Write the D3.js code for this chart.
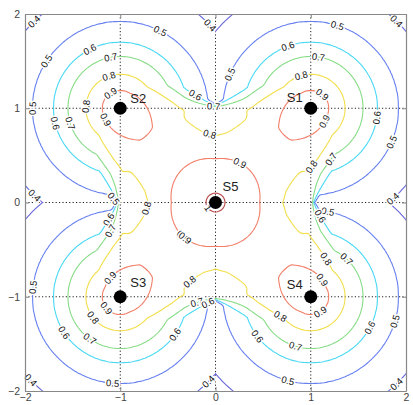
<!DOCTYPE html>
<html><head><meta charset="utf-8">
<script src="https://cdn.jsdelivr.net/npm/d3@7"></script>
<style>
body{margin:0;background:#fff;}
svg text{font-family:"Liberation Sans",Arial,Helvetica,sans-serif;}
</style></head><body>
<svg id="chart" width="413" height="405"></svg>
<script>
// ---------------- data ----------------
const sourceNames = ["S1", "S2", "S3", "S4", "S5"];
const sourceX = [1, -1, -1, 1, 0];
const sourceY = [1, 1, -1, -1, 0];

const levels = [0.4, 0.5, 0.6, 0.7, 0.8, 0.9, 1.0];
const levelColors = ["#6666dc", "#6680f0", "#48d8f4", "#86dc86", "#f2de4a", "#f27e68", "#b84444"];

// corner sources S1..S4: distance at which each level is reached
const cornerDist  = [0, 0.19, 0.36, 0.55, 0.70, 0.92, 1.29, 1.60, 3.00];
const cornerValue = [0.98, 0.9, 0.8, 0.7, 0.6, 0.5, 0.4, 0.33, 0.2];
// central source S5: its own contribution vs distance, its sharp reach on the axes
// and the width of its fading band between the axes
const centerDist  = [0, 0.10, 0.46, 0.70, 0.97, 1.60];
const centerValue = [1.05, 1.0, 0.795, 0.563, 0.33, 0.30];
const centerRange = 1.03;
const centerFade = 0.45;
const overlapExponent = 1.26;

const tickValues = [-2, -1, 0, 1, 2];

// contour labels: level and approximate place on the line
const labelLevel = [0.4,0.5,0.5,0.6,0.7,0.8,0.9,0.5,0.8,0.9,0.6,0.7,0.6,0.7,0.8,0.4,0.5,
  0.6,0.7,0.8,0.9,0.8,0.7,0.9,0.9,0.8,0.7,0.6,0.6,0.5,0.4,0.5,
  0.4,0.5,0.4,0.6,0.7,0.8,0.5,0.9,0.9,0.6,0.5,0.8,0.7,0.9,0.4,
  0.5,0.6,0.8,0.7,0.9,0.9,0.8,0.6,0.5,0.6,0.7,0.5,0.4,0.4,0.7,0.6,
  0.9,1.0];
const labelX = [-1.88,-0.58,-1.74,-1.31,-1.09,-1.11,-1.11,-1.90,-1.37,-1.09,-1.70,-1.55,-0.29,-0.04,-0.08,-1.91,-1.06,
  -1.02,-1.02,-0.69,-0.30,-0.32,-0.25,-1.09,-1.14,-1.32,-1.32,-1.60,-0.44,-1.89,-1.91,-1.07,
  -0.04,1.27,1.87,0.76,1.08,0.90,0.15,1.10,1.10,1.67,1.83,0.94,1.18,0.22,1.87,
  1.18,0.97,1.08,1.36,1.08,1.08,0.68,1.60,1.88,0.45,0.83,0.76,1.87,-0.08,-0.23,-0.09,
  -0.30,-0.09];
const labelY = [1.88,1.81,1.48,1.60,1.53,1.34,1.16,1.00,1.02,0.90,0.84,0.84,1.02,0.91,0.68,0.06,0.05,
  -0.24,-0.34,-0.08,-0.32,-0.77,-0.93,-0.82,-1.12,-1.23,-1.46,-1.39,-1.40,-0.91,-1.86,-1.90,
  1.88,1.85,1.90,1.64,1.53,1.33,1.36,1.13,0.88,0.91,0.65,0.42,0.49,0.35,0.03,
  -0.11,-0.22,-0.64,-0.61,-0.86,-1.14,-1.21,-1.32,-1.25,-1.42,-1.53,-1.90,-1.90,-1.88,-0.94,-1.07,
  -0.34,-0.08];

// ---------------- field on a grid ----------------
const n = 201, h = 4 / (n - 1);
const cornerScale = d3.scaleLinear().domain(cornerDist).range(cornerValue).clamp(true);
const centerScale = d3.scaleLinear().domain(centerDist).range(centerValue).clamp(true);
const values = new Float64Array(n * n);
for (let j = 0; j < n; j++) {
  const py = 2 - j * h;
  for (let i = 0; i < n; i++) {
    const px = -2 + i * h;
    let pc = 0;
    for (let s = 0; s < 4; s++) {
      pc = Math.max(pc, cornerScale(Math.hypot(px - sourceX[s], py - sourceY[s])));
    }
    let v = pc;
    const dx = px - sourceX[4], dy = py - sourceY[4];
    const d5 = Math.hypot(dx, dy);
    let w = 0;
    if (d5 <= centerRange) w = 1;
    else {
      const a = Math.abs(Math.sin(2 * Math.atan2(dy, dx)));
      if (a > 0) w = Math.max(0, 1 - (d5 - centerRange) / (centerFade * a));
    }
    if (w > 0) {
      const p5 = w * centerScale(d5);
      const k = 1 + (overlapExponent - 1) * w;
      v = Math.max(pc, 1 - (1 - p5) * Math.pow(1 - pc, k));
    }
    values[j * n + i] = v;
  }
}

// ---------------- drawing ----------------
const svg = d3.select("#chart");
const x = d3.scaleLinear().domain([-2, 2]).range([25, 406]);
const y = d3.scaleLinear().domain([-2, 2]).range([391, 14]);
const gx = d3.scaleLinear().domain([0.5, n - 0.5]).range([x(-2), x(2)]);
const gy = d3.scaleLinear().domain([0.5, n - 0.5]).range([y(2), y(-2)]);
const color = d3.scaleOrdinal().domain(levels).range(levelColors);

svg.append("rect").attr("width", 413).attr("height", 405).attr("fill", "#fff");
svg.append("defs").append("clipPath").attr("id", "plotclip")
  .append("rect").attr("x", x(-2)).attr("y", y(2))
  .attr("width", x(2) - x(-2)).attr("height", y(-2) - y(2));

const plot = svg.append("g").attr("clip-path", "url(#plotclip)");

// dotted grid lines
const gridVals = tickValues.filter(v => v > -2 && v < 2);
plot.selectAll("line.gv").data(gridVals).join("line")
  .attr("x1", d => x(d)).attr("x2", d => x(d)).attr("y1", y(2)).attr("y2", y(-2))
  .attr("stroke", "#222").attr("stroke-width", 1).attr("stroke-dasharray", "1.2,2.2");
plot.selectAll("line.gh").data(gridVals).join("line")
  .attr("y1", d => y(d)).attr("y2", d => y(d)).attr("x1", x(-2)).attr("x2", x(2))
  .attr("stroke", "#222").attr("stroke-width", 1).attr("stroke-dasharray", "1.2,2.2");

// contours
const contours = d3.contours().size([n, n]).thresholds(levels)(values);
const proj = d3.geoTransform({ point: function (px, py) { this.stream.point(gx(px), gy(py)); } });
const path = d3.geoPath(proj);
plot.selectAll("path.c").data(contours).join("path")
  .attr("d", path).attr("fill", "none")
  .attr("stroke", d => color(d.value)).attr("stroke-width", 1.1);

// rings in pixel space for label placement
const ringsByLevel = new Map();
contours.forEach(c => {
  const rings = [];
  c.coordinates.forEach(poly => poly.forEach(r => rings.push(r.map(p => [gx(p[0]), gy(p[1])]))));
  ringsByLevel.set(c.value, rings);
});
const inside = p => p[0] > x(-2) + 1 && p[0] < x(2) - 1 && p[1] > y(2) + 1 && p[1] < y(-2) - 1;

const labelG = svg.append("g");
labelLevel.forEach((lv, k) => {
  const tx = x(labelX[k]), ty = y(labelY[k]);
  const rings = ringsByLevel.get(lv) || [];
  let best = null, bd = Infinity;
  rings.forEach(r => r.forEach((p, idx) => {
    if (!inside(p)) return;
    const dd = (p[0] - tx) ** 2 + (p[1] - ty) ** 2;
    if (dd < bd) { bd = dd; best = [r, idx]; }
  }));
  let px = tx, py = ty, ang = 0;
  if (best && bd < 30 * 30) {
    const [r, idx] = best;
    const m = r.length;
    const a = r[(idx - 4 + m) % m], b = r[(idx + 4) % m];
    px = r[idx][0]; py = r[idx][1];
    ang = Math.atan2(b[1] - a[1], b[0] - a[0]) * 180 / Math.PI;
    if (ang > 90) ang -= 180;
    if (ang < -90) ang += 180;
  }
  labelG.append("text")
    .attr("transform", `translate(${px},${py}) rotate(${ang})`)
    .attr("text-anchor", "middle").attr("dy", "0.35em")
    .attr("font-size", 9.5).attr("fill", "#111")
    .attr("stroke", "#fff").attr("stroke-width", 3).attr("paint-order", "stroke")
    .text(String(lv));
});

// axes
const axisColor = "#888";
const gB = svg.append("g").attr("transform", `translate(0,${y(-2)})`)
  .call(d3.axisBottom(x).tickValues(tickValues).tickSize(-4).tickSizeOuter(0).tickPadding(3).tickFormat(d3.format("d")));
const gT = svg.append("g").attr("transform", `translate(0,${y(2)})`)
  .call(d3.axisTop(x).tickValues(tickValues).tickSize(-4).tickSizeOuter(0).tickFormat(""));
const gL = svg.append("g").attr("transform", `translate(${x(-2)},0)`)
  .call(d3.axisLeft(y).tickValues(tickValues).tickSize(-4).tickSizeOuter(0).tickPadding(5).tickFormat(d3.format("d")));
const gR = svg.append("g").attr("transform", `translate(${x(2)},0)`)
  .call(d3.axisRight(y).tickValues(tickValues).tickSize(-4).tickSizeOuter(0).tickFormat(""));
[gB, gT, gL, gR].forEach(g => {
  g.select(".domain").attr("stroke", axisColor).attr("stroke-width", 1.2);
  g.selectAll(".tick line").attr("stroke", axisColor);
  g.selectAll(".tick text").attr("fill", "#444").attr("font-size", 10.5)
    .attr("font-family", "'Liberation Sans',Arial,sans-serif");
});

// sources
const labelDx = [-16, 18, 18, -16, 15];
const labelDy = [-11, -10, -14, -12, -16];
const srcG = svg.append("g");
sourceNames.forEach((nm, k) => {
  srcG.append("circle").attr("cx", x(sourceX[k])).attr("cy", y(sourceY[k])).attr("r", 6.5).attr("fill", "#000");
  srcG.append("text").attr("x", x(sourceX[k]) + labelDx[k]).attr("y", y(sourceY[k]) + labelDy[k])
    .attr("text-anchor", "middle").attr("dy", "0.36em").attr("font-size", 13).attr("fill", "#222")
    .text(nm);
});
</script>
</body></html>
